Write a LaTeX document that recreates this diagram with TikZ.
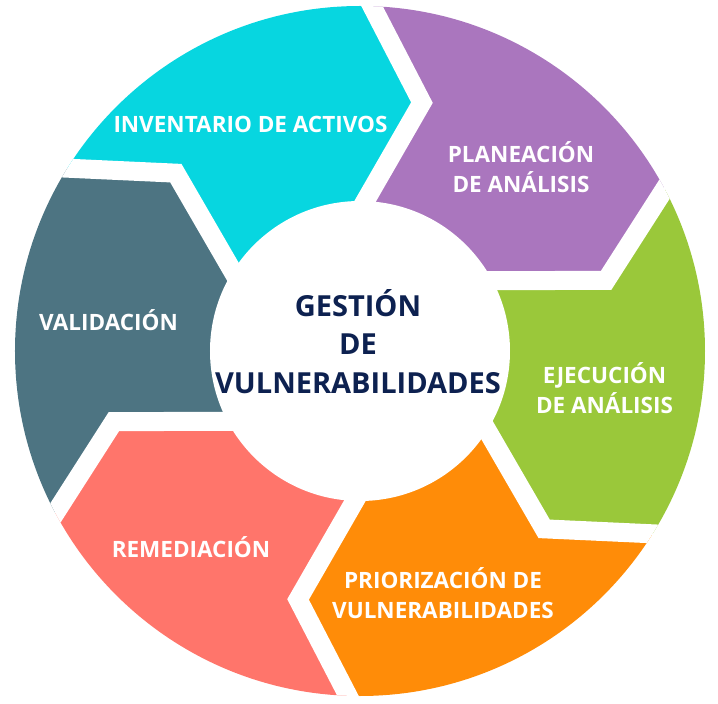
\documentclass[tikz,border=0pt]{standalone}
\usepackage{fontspec}
\setmainfont{Open Sans}
\definecolor{invcol}{RGB}{7,214,224}
\definecolor{plancol}{RGB}{170,118,190}
\definecolor{ejeccol}{RGB}{154,200,58}
\definecolor{priocol}{RGB}{255,140,8}
\definecolor{remcol}{RGB}{255,117,107}
\definecolor{valcol}{RGB}{77,116,130}
\definecolor{navy}{RGB}{13,33,80}
\begin{document}
\begin{tikzpicture}[x=1pt,y=1pt,
    lbl/.style={text=white,align=center,font=\bfseries\fontsize{22.5}{30}\selectfont},
    gap/.style={white,line width=19,line join=miter,shorten <=-30pt,shorten >=-10pt}]
\useasboundingbox (-360,-353) rectangle (358,351);
\coordinate (O) at (0,0);

\begin{scope}
    \clip (O) circle (345);
    \foreach \c [count=\i from 0] in {invcol,plancol,ejeccol,priocol,remcol,valcol}{
        \pgfmathsetmacro\a{148-60*\i}
        \pgfmathsetmacro\b{\a-60}
        \fill[\c] (O) -- (\a:150) -- (\a-12:256) -- (\a:345) -- (\a-30:440)
            -- (\b:345) -- (\b-12:256) -- (\b:150) -- cycle;
    }
    \foreach \t in {88,28,-32,-92,-152,148}
        \draw[gap] (\t:345) -- (\t-12:256) -- (\t:150);
\end{scope}
\fill[white] (O) circle (150);

\node[lbl] (inv) at (-109.5,227) {INVENTARIO DE ACTIVOS};
\node[lbl] (plan) at (161,184) {PLANEACIÓN\\DE ANÁLISIS};
\node[lbl] (ejec) at (244.5,-37) {EJECUCIÓN\\DE ANÁLISIS};
\node[lbl] (prio) at (83,-242) {PRIORIZACIÓN DE\\VULNERABILIDADES};
\node[lbl] (rem) at (-169,-196) {REMEDIACIÓN};
\node[lbl] (val) at (-251.5,31) {VALIDACIÓN};
\node[text=navy,align=center,font=\bfseries\fontsize{29}{38.5}\selectfont] (gest) at (-2,9.5)
    {GESTIÓN\\DE\\VULNERABILIDADES};
\end{tikzpicture}
\end{document}
